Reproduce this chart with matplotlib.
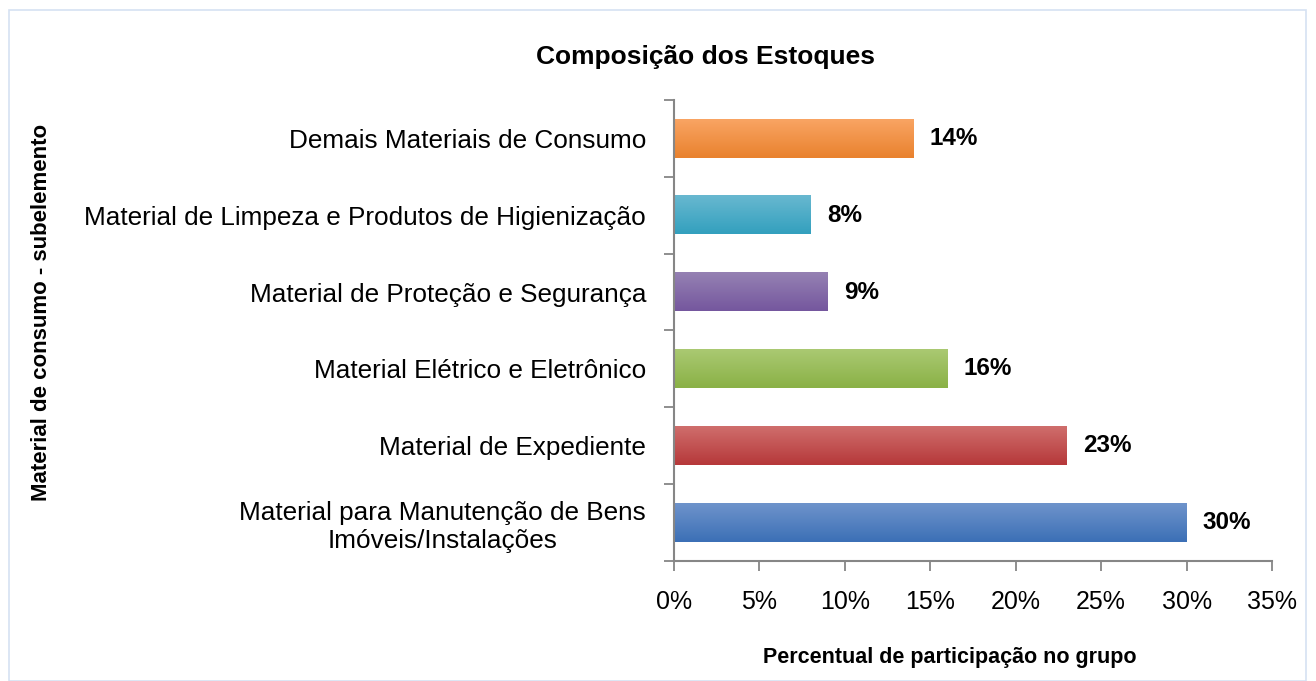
import matplotlib.pyplot as plt
import matplotlib.colors as mcolors
import numpy as np
from matplotlib.patches import Rectangle

# dados
categorias = ['Material para Manutenção de Bens\nImóveis/Instalações',
              'Material de Expediente',
              'Material Elétrico e Eletrônico',
              'Material de Proteção e Segurança',
              'Material de Limpeza e Produtos de Higienização',
              'Demais Materiais de Consumo']
valores = [30, 23, 16, 9, 8, 14]
cores_topo = ['#6E93CB', '#CF6E6C', '#AAC972', '#9581B3', '#68B8D0', '#F9A463']
cores_base = ['#3C70B6', '#B6383A', '#8AB146', '#75579E', '#33A0BE', '#E9822E']
xticks = [0, 5, 10, 15, 20, 25, 30, 35]

plt.rcParams['font.family'] = ['Liberation Sans Narrow', 'Liberation Sans', 'DejaVu Sans']

fig = plt.figure(figsize=(13.16, 6.81), dpi=100)
fig.patches.append(Rectangle((9 / 1316, 0), 1297 / 1316, 1 - 10 / 681, transform=fig.transFigure,
                             fill=False, edgecolor='#D5E1F2', linewidth=1.2))
ax = fig.add_axes([674 / 1316, 1 - 561 / 681, (1272 - 674) / 1316, (561 - 100) / 681])

y = np.arange(len(categorias))
altura = 0.5
for i, v in enumerate(valores):
    cmap = mcolors.LinearSegmentedColormap.from_list('g', [cores_base[i], cores_topo[i]])
    grad = np.linspace(0, 1, 50).reshape(-1, 1)
    ax.imshow(grad, extent=(0, v, y[i] - altura / 2, y[i] + altura / 2), origin='lower',
              cmap=cmap, aspect='auto', zorder=2)
    ax.text(v + 0.95, y[i], f'{v}%', va='center', ha='left', fontsize=17.5, fontweight='bold')

ax.set_xlim(0, 35)
ax.set_ylim(-0.5, 5.5)
ax.set_xticks(xticks)
ax.set_xticklabels([f'{t}%' for t in xticks], fontsize=18)
ax.set_yticks(y)
ax.set_yticklabels(categorias, fontsize=18.8, multialignment='center')
ax.set_yticks(np.arange(-0.5, 6, 1), minor=True)
ax.tick_params(axis='y', which='major', length=0, pad=20)
ax.tick_params(axis='y', which='minor', length=7, width=1.3, color='#868686')
ax.tick_params(axis='x', length=7, width=1.3, color='#868686', pad=14)
for s in ['top', 'right']:
    ax.spines[s].set_visible(False)
for s in ['left', 'bottom']:
    ax.spines[s].set_color('#868686')
    ax.spines[s].set_linewidth(1.5)

fig.text(705 / 1316, 1 - 57 / 681, 'Composição dos Estoques', fontsize=19, fontweight='bold',
         ha='center', va='center')
fig.text(950 / 1316, 1 - 657 / 681, 'Percentual de participação no grupo', fontsize=15.5,
         fontweight='bold', ha='center', va='center')
fig.text(42 / 1316, 1 - 312 / 681, 'Material de consumo - subelemento', rotation=90,
         fontsize=16, fontweight='bold', ha='center', va='center')

plt.savefig('out.png', dpi=100)
